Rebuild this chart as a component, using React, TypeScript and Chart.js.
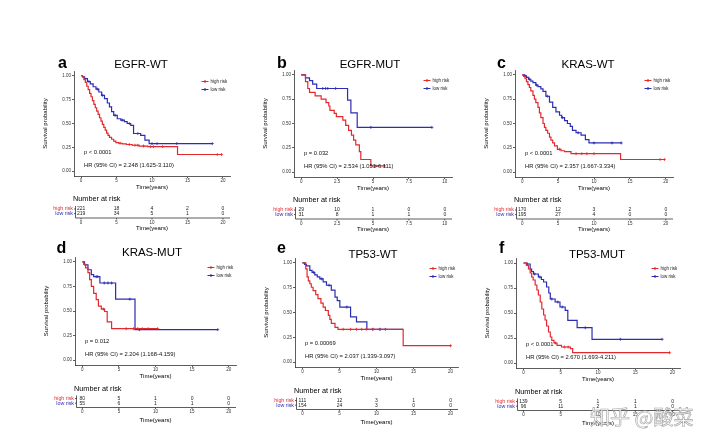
import React, { useEffect, useRef } from 'react';
import { Chart, registerables } from 'chart.js';

Chart.register(...registerables);

const FONT = '"Liberation Sans", Arial, Helvetica, sans-serif';
const RED = '#e3292e';
const BLUE = '#2d2db4';
const INK = '#222';

// ---------- tick labels ----------
const xTicks20 = [0, 5, 10, 15, 20];
const xTicks10 = [0, 2.5, 5, 7.5, 10];
const yTicks = [0, 0.25, 0.5, 0.75, 1];

// ---------- texts ----------
const letters = ['a', 'b', 'c', 'd', 'e', 'f'];
const titles = ['EGFR-WT', 'EGFR-MUT', 'KRAS-WT', 'KRAS-MUT', 'TP53-WT', 'TP53-MUT'];
const pTexts = ['p < 0.0001', 'p = 0.032', 'p < 0.0001', 'p = 0.012', 'p = 0.00069', 'p < 0.0001'];
const hrTexts = [
  'HR (95% CI) = 2.248 (1.625-3.110)',
  'HR (95% CI) = 2.534 (1.051-6.111)',
  'HR (95% CI) = 2.357 (1.667-3.334)',
  'HR (95% CI) = 2.204 (1.168-4.159)',
  'HR (95% CI) = 2.037 (1.339-3.097)',
  'HR (95% CI) = 2.670 (1.693-4.211)',
];
const groupNames = ['high risk', 'low risk'];

// ---------- Kaplan-Meier steps [time, survival] ----------
const aHigh = [[0, 1], [0.2, 0.985], [0.4, 0.96], [0.6, 0.93], [0.8, 0.89], [1.0, 0.855], [1.2, 0.815], [1.4, 0.78], [1.6, 0.74], [1.8, 0.7], [2.0, 0.665], [2.2, 0.63], [2.4, 0.595], [2.6, 0.56], [2.8, 0.525], [3.0, 0.49], [3.2, 0.46], [3.4, 0.43], [3.6, 0.4], [3.8, 0.375], [4.0, 0.355], [4.3, 0.335], [4.6, 0.315], [4.9, 0.3], [5.3, 0.293], [5.8, 0.287], [6.4, 0.28], [7.2, 0.272], [8.2, 0.264], [9.4, 0.258], [13.6, 0.175]];
const aHighEnd = 19.8;
const aHighCens = [5.5, 6.8, 7.6, 8.0, 8.8, 9.8, 10.2, 11.5, 19.2, 19.8];
const aLow = [[0, 1], [0.2, 0.99], [0.5, 0.97], [0.9, 0.94], [1.3, 0.915], [1.7, 0.885], [2.1, 0.86], [2.5, 0.83], [2.9, 0.795], [3.3, 0.76], [3.7, 0.715], [4.0, 0.675], [4.3, 0.625], [4.6, 0.585], [5.1, 0.55], [5.6, 0.535], [6.1, 0.52], [6.5, 0.5], [7.0, 0.48], [7.4, 0.395], [8.4, 0.375], [9.0, 0.325], [9.6, 0.29]];
const aLowEnd = 18.5;
const aLowCens = [1.1, 2.3, 3.0, 4.8, 5.8, 6.8, 8.0, 10.0, 10.7, 13.5, 18.5];

const bHigh = [[0, 1], [0.3, 0.93], [0.46, 0.86], [0.58, 0.82], [0.97, 0.785], [1.39, 0.75], [1.73, 0.715], [1.92, 0.68], [2.0, 0.635], [2.3, 0.605], [2.45, 0.57], [2.9, 0.535], [3.1, 0.48], [3.3, 0.43], [3.5, 0.38], [3.65, 0.33], [3.8, 0.28], [4.05, 0.21], [4.15, 0.13], [4.85, 0.065]];
const bHighEnd = 5.8;
const bHighCens = [5.2, 5.8];
const bLow = [[0, 1], [0.3, 0.97], [0.58, 0.94], [0.8, 0.905], [1.08, 0.86], [3.23, 0.74], [3.46, 0.61], [3.9, 0.46]];
const bLowEnd = 9.1;
const bLowCens = [1.5, 1.7, 1.85, 2.4, 4.85, 9.1];

const cHigh = [[0, 1], [0.2, 0.985], [0.4, 0.96], [0.6, 0.93], [0.8, 0.9], [1.0, 0.87], [1.2, 0.835], [1.5, 0.79], [1.7, 0.75], [1.9, 0.715], [2.2, 0.665], [2.4, 0.61], [2.6, 0.56], [2.9, 0.5], [3.1, 0.46], [3.3, 0.43], [3.55, 0.4], [3.8, 0.36], [4.0, 0.33], [4.25, 0.3], [4.5, 0.27], [4.9, 0.235], [5.4, 0.22], [5.9, 0.21], [6.8, 0.19], [13.7, 0.13]];
const cHighEnd = 19.8;
const cHighCens = [5.2, 7.5, 8.3, 9.0, 10.0, 19.2, 19.8];
const cLow = [[0, 1], [0.3, 0.99], [0.6, 0.975], [0.9, 0.955], [1.2, 0.935], [1.5, 0.92], [1.9, 0.895], [2.2, 0.88], [2.6, 0.855], [2.9, 0.83], [3.3, 0.78], [3.8, 0.72], [4.25, 0.665], [4.7, 0.62], [5.2, 0.585], [5.5, 0.56], [5.9, 0.53], [6.3, 0.5], [6.7, 0.47], [7.0, 0.43], [7.5, 0.405], [8.2, 0.38], [8.8, 0.335], [9.3, 0.3]];
const cLowEnd = 13.8;
const cLowCens = [0.4, 1.0, 2.0, 3.5, 5.6, 7.8, 10.0, 12.5, 13.8];

const dHigh = [[0, 1], [0.2, 0.975], [0.45, 0.94], [0.77, 0.89], [1.0, 0.82], [1.23, 0.75], [1.55, 0.68], [1.9, 0.615], [2.2, 0.55], [2.6, 0.52], [3.05, 0.495], [3.4, 0.39], [4.0, 0.32]];
const dHighEnd = 10.3;
const dHighCens = [2.9, 6.0, 7.0, 7.6, 8.2, 9.0, 10.3];
const dLow = [[0, 1], [0.3, 0.97], [0.77, 0.92], [1.23, 0.87], [1.55, 0.85], [2.4, 0.785], [4.55, 0.62], [7.2, 0.31]];
const dLowEnd = 18.5;
const dLowCens = [1.9, 2.1, 3.0, 3.5, 4.0, 6.5, 7.8, 18.5];

const eHigh = [[0, 1], [0.45, 0.94], [0.63, 0.86], [0.8, 0.82], [1.0, 0.79], [1.2, 0.755], [1.44, 0.72], [1.8, 0.68], [2.1, 0.64], [2.5, 0.595], [2.8, 0.555], [3.1, 0.52], [3.5, 0.47], [3.7, 0.43], [3.9, 0.39], [4.4, 0.35], [4.8, 0.33], [13.6, 0.165]];
const eHighEnd = 20;
const eHighCens = [5.5, 6.5, 7.3, 8.0, 8.6, 9.5, 10.4, 20];
const eLow = [[0, 1], [0.3, 0.985], [0.55, 0.97], [1.0, 0.925], [1.3, 0.905], [1.67, 0.88], [2.0, 0.86], [2.35, 0.84], [2.8, 0.81], [3.25, 0.775], [3.9, 0.725], [4.4, 0.655], [4.7, 0.62], [5.05, 0.555], [6.5, 0.455], [7.3, 0.405], [8.7, 0.33]];
const eLowEnd = 13.6;
const eLowCens = [1.5, 2.6, 3.6, 6.0, 9.5, 10.5, 11.2];

const fHigh = [[0, 1], [0.4, 0.975], [0.67, 0.94], [0.9, 0.9], [1.1, 0.86], [1.3, 0.83], [1.57, 0.78], [1.8, 0.73], [2.0, 0.68], [2.25, 0.61], [2.46, 0.54], [2.7, 0.48], [2.9, 0.43], [3.1, 0.37], [3.36, 0.31], [3.6, 0.26], [3.8, 0.227], [4.1, 0.2], [4.5, 0.177], [5.1, 0.16], [6.3, 0.143], [6.6, 0.103]];
const fHighEnd = 19.6;
const fHighCens = [4.3, 5.5, 6.0, 19.6];
const fLow = [[0, 1], [0.45, 0.99], [0.9, 0.94], [1.1, 0.915], [1.34, 0.89], [2.0, 0.86], [2.4, 0.835], [2.7, 0.81], [3.1, 0.76], [3.4, 0.7], [3.6, 0.64], [4.25, 0.61], [4.9, 0.56], [5.6, 0.527], [5.95, 0.427], [7.2, 0.353], [9.2, 0.237]];
const fLowEnd = 18.6;
const fLowCens = [0.5, 1.5, 2.2, 3.8, 4.6, 5.2, 8.3, 13.0, 18.6];

// ---------- numbers at risk ----------
const aRiskHigh = [221, 18, 4, 2, 0];
const aRiskLow = [219, 34, 5, 1, 0];
const bRiskHigh = [29, 10, 1, 0, 0];
const bRiskLow = [31, 8, 1, 1, 0];
const cRiskHigh = [170, 12, 3, 2, 0];
const cRiskLow = [195, 27, 4, 0, 0];
const dRiskHigh = [80, 5, 1, 0, 0];
const dRiskLow = [55, 6, 1, 1, 0];
const eRiskHigh = [111, 12, 3, 1, 0];
const eRiskLow = [154, 24, 3, 0, 0];
const fRiskHigh = [139, 5, 1, 1, 0];
const fRiskLow = [96, 11, 2, 1, 0];

const panels = [
  { high: aHigh, highEnd: aHighEnd, highCens: aHighCens, low: aLow, lowEnd: aLowEnd, lowCens: aLowCens, riskHigh: aRiskHigh, riskLow: aRiskLow, xTicks: xTicks20 },
  { high: bHigh, highEnd: bHighEnd, highCens: bHighCens, low: bLow, lowEnd: bLowEnd, lowCens: bLowCens, riskHigh: bRiskHigh, riskLow: bRiskLow, xTicks: xTicks10 },
  { high: cHigh, highEnd: cHighEnd, highCens: cHighCens, low: cLow, lowEnd: cLowEnd, lowCens: cLowCens, riskHigh: cRiskHigh, riskLow: cRiskLow, xTicks: xTicks20 },
  { high: dHigh, highEnd: dHighEnd, highCens: dHighCens, low: dLow, lowEnd: dLowEnd, lowCens: dLowCens, riskHigh: dRiskHigh, riskLow: dRiskLow, xTicks: xTicks20 },
  { high: eHigh, highEnd: eHighEnd, highCens: eHighCens, low: eLow, lowEnd: eLowEnd, lowCens: eLowCens, riskHigh: eRiskHigh, riskLow: eRiskLow, xTicks: xTicks20 },
  { high: fHigh, highEnd: fHighEnd, highCens: fHighCens, low: fLow, lowEnd: fLowEnd, lowCens: fLowCens, riskHigh: fRiskHigh, riskLow: fRiskLow, xTicks: xTicks20 },
];

// ---------- layout (page pixel positions of each plot area) ----------
const layouts = [
  { l: 74, t: 71, r: 230, b: 176, titleX: 141, titleBase: 68, letterX: 58, letterBase: 67.5, row: 0 },
  { l: 294, t: 70, r: 452, b: 177, titleX: 370, titleBase: 68, letterX: 277, letterBase: 67.5, row: 0 },
  { l: 515, t: 70, r: 673, b: 177, titleX: 588, titleBase: 68, letterX: 497, letterBase: 67.5, row: 0 },
  { l: 75, t: 257, r: 236, b: 365, titleX: 152, titleBase: 256, letterX: 56.5, letterBase: 252.5, row: 1 },
  { l: 295, t: 258, r: 458, b: 367, titleX: 373, titleBase: 257.5, letterX: 277, letterBase: 253, row: 1 },
  { l: 516, t: 258, r: 680, b: 368, titleX: 597, titleBase: 257.5, letterX: 499, letterBase: 253, row: 1 },
];
const tableOffsets = [
  { nar: 23, r1: 33, r2: 37.6, axis: 42, tick: 46.5, time: 52.5 },
  { nar: 24, r1: 33.5, r2: 38.2, axis: 42.5, tick: 47, time: 55.5 },
];
const PAD_LEFT = 40, PAD_TOP = 22, PAD_RIGHT = 4, X_AXIS_H = 15, PAD_BOTTOM = 46;

function survivalAt(steps: number[][], t: number) {
  let s = 1;
  for (const [st, sv] of steps) if (st <= t) s = sv;
  return s;
}

function buildCurve(steps: number[][], end: number, cens: number[]) {
  const pts: { x: number; y: number; c: boolean }[] = steps.map(([t, s]) => ({ x: t, y: s, c: false }));
  cens.forEach((t) => pts.push({ x: t, y: survivalAt(steps, t), c: true }));
  if (!cens.includes(end)) pts.push({ x: end, y: survivalAt(steps, end), c: false });
  pts.sort((p, q) => p.x - q.x || (p.c ? 1 : 0) - (q.c ? 1 : 0));
  return pts;
}

function dataset(steps: number[][], end: number, cens: number[], color: string, label: string) {
  return {
    label,
    data: buildCurve(steps, end, cens),
    borderColor: color,
    backgroundColor: color,
    borderWidth: 1.2,
    stepped: true as const,
    fill: false,
    tension: 0,
    pointStyle: 'cross' as const,
    pointRadius: (ctx: any) => (ctx.raw && ctx.raw.c ? 1.5 : 0),
    pointBorderColor: color,
    pointBorderWidth: 0.8,
    pointHoverRadius: 0,
  };
}

function makeDecor(idx: number) {
  return {
    id: 'decor' + idx,
    afterDraw(chart: any) {
      const L = layouts[idx];
      const p = panels[idx];
      const T = tableOffsets[L.row];
      const ctx: CanvasRenderingContext2D = chart.ctx;
      const ca = chart.chartArea;
      const xs = chart.scales.x;
      const cl = L.l - PAD_LEFT;
      const ct = L.t - PAD_TOP;
      ctx.save();

      // panel letter + title
      ctx.fillStyle = '#000';
      ctx.textBaseline = 'alphabetic';
      ctx.textAlign = 'left';
      ctx.font = `bold 16px ${FONT}`;
      ctx.fillText(letters[idx], L.letterX - cl, L.letterBase - ct);
      ctx.textAlign = 'center';
      ctx.font = `11.5px ${FONT}`;
      ctx.fillText(titles[idx], L.titleX - cl, L.titleBase - ct);

      // legend inside plot (top right)
      const colors = [RED, BLUE];
      ctx.textBaseline = 'middle';
      ctx.textAlign = 'left';
      ctx.font = `4.5px ${FONT}`;
      for (let k = 0; k < 2; k++) {
        const y = ca.top + 10.5 + 8 * k;
        const x0 = ca.right - 28.5;
        ctx.strokeStyle = colors[k];
        ctx.lineWidth = 1.1;
        ctx.beginPath();
        ctx.moveTo(x0, y);
        ctx.lineTo(x0 + 7, y);
        ctx.moveTo(x0 + 3.5, y - 1.5);
        ctx.lineTo(x0 + 3.5, y + 1.5);
        ctx.stroke();
        ctx.fillStyle = INK;
        ctx.fillText(groupNames[k], x0 + 9, y);
      }

      // p-value and hazard ratio
      ctx.fillStyle = '#111';
      ctx.font = `5.8px ${FONT}`;
      ctx.fillText(pTexts[idx], ca.left + 10, ca.bottom - 24);
      ctx.fillText(hrTexts[idx], ca.left + 10, ca.bottom - 10.5);

      // risk table
      const B = ca.bottom;
      ctx.fillStyle = '#000';
      ctx.font = `7.3px ${FONT}`;
      ctx.fillText('Number at risk', ca.left - 1, B + T.nar);

      const tl = ca.left + 1.5;
      const rows = [p.riskHigh, p.riskLow];
      const rowY = [B + T.r1, B + T.r2];
      ctx.strokeStyle = '#333';
      ctx.lineWidth = 0.8;
      ctx.beginPath();
      ctx.moveTo(tl, B + T.r1 - 3);
      ctx.lineTo(tl, B + T.axis);
      ctx.lineTo(ca.right, B + T.axis);
      for (let k = 0; k < 2; k++) {
        ctx.moveTo(tl - 1.5, rowY[k]);
        ctx.lineTo(tl, rowY[k]);
      }
      p.xTicks.forEach((v) => {
        const px = xs.getPixelForValue(v);
        ctx.moveTo(px, B + T.axis);
        ctx.lineTo(px, B + T.axis + 1.5);
      });
      ctx.stroke();

      for (let k = 0; k < 2; k++) {
        ctx.textAlign = 'right';
        ctx.fillStyle = colors[k];
        ctx.font = `5.3px ${FONT}`;
        ctx.fillText(groupNames[k], tl - 2.5, rowY[k]);
        ctx.textAlign = 'center';
        ctx.fillStyle = INK;
        ctx.font = `5px ${FONT}`;
        rows[k].forEach((n: number, j: number) => {
          ctx.fillText(String(n), xs.getPixelForValue(p.xTicks[j]), rowY[k]);
        });
      }
      ctx.fillStyle = '#333';
      ctx.font = `4.5px ${FONT}`;
      p.xTicks.forEach((v) => {
        ctx.fillText(String(v), xs.getPixelForValue(v), B + T.tick);
      });
      ctx.fillStyle = '#000';
      ctx.font = `6px ${FONT}`;
      ctx.fillText('Time(years)', (ca.left + ca.right) / 2, B + T.time);
      ctx.restore();
    },
  };
}

function Panel({ idx }: { idx: number }) {
  const ref = useRef<HTMLCanvasElement>(null);
  const L = layouts[idx];
  const cw = PAD_LEFT + (L.r - L.l) + PAD_RIGHT;
  const ch = PAD_TOP + (L.b - L.t) + X_AXIS_H + PAD_BOTTOM;

  useEffect(() => {
    const p = panels[idx];
    const xMax = p.xTicks[p.xTicks.length - 1];
    const pad = xMax * 0.05;
    const axisGrid = {
      display: true,
      drawOnChartArea: false,
      drawTicks: true,
      tickLength: 2,
      color: '#333',
      lineWidth: 0.8,
    };
    const chart = new Chart(ref.current as HTMLCanvasElement, {
      type: 'line',
      data: {
        datasets: [
          dataset(p.high, p.highEnd, p.highCens, RED, groupNames[0]),
          dataset(p.low, p.lowEnd, p.lowCens, BLUE, groupNames[1]),
        ] as any,
      },
      options: {
        animation: false,
        responsive: false,
        devicePixelRatio: window.devicePixelRatio || 1,
        events: [],
        layout: { padding: { left: 0, top: PAD_TOP, right: PAD_RIGHT, bottom: PAD_BOTTOM } },
        plugins: { legend: { display: false }, tooltip: { enabled: false }, title: { display: false } },
        scales: {
          x: {
            type: 'linear',
            min: -pad,
            max: xMax + pad,
            afterBuildTicks: (s: any) => {
              s.ticks = p.xTicks.map((v) => ({ value: v }));
            },
            afterFit: (s: any) => {
              s.height = X_AXIS_H;
            },
            ticks: {
              font: { size: 4.5, family: FONT },
              color: '#333',
              padding: 0,
              autoSkip: false,
              maxRotation: 0,
              callback: (v: any) => String(v),
            },
            grid: axisGrid,
            border: { display: true, color: '#333', width: 0.8 },
            title: {
              display: true,
              text: 'Time(years)',
              font: { size: 6, family: FONT },
              color: '#000',
              padding: { top: 0, bottom: 0 },
            },
          },
          y: {
            type: 'linear',
            min: -0.05,
            max: 1.05,
            afterBuildTicks: (s: any) => {
              s.ticks = yTicks.map((v) => ({ value: v }));
            },
            afterFit: (s: any) => {
              s.width = PAD_LEFT;
            },
            ticks: {
              font: { size: 4.5, family: FONT },
              color: '#333',
              padding: 1,
              autoSkip: false,
              callback: (v: any) => Number(v).toFixed(2),
            },
            grid: axisGrid,
            border: { display: true, color: '#333', width: 0.8 },
            title: {
              display: true,
              text: 'Survival probability',
              font: { size: 6, family: FONT },
              color: '#000',
              padding: { top: 8, bottom: 0 },
            },
          },
        },
      } as any,
      plugins: [makeDecor(idx)],
    });
    return () => chart.destroy();
  }, [idx]);

  return (
    <canvas
      ref={ref}
      width={cw}
      height={ch}
      style={{ position: 'absolute', left: L.l - PAD_LEFT, top: L.t - PAD_TOP, width: cw, height: ch }}
    />
  );
}

export default function App() {
  return (
    <div
      style={{
        position: 'absolute',
        left: 0,
        top: 0,
        width: 720,
        height: 447,
        background: '#fff',
        overflow: 'hidden',
      }}
    >
      {layouts.map((_, i) => (
        <Panel key={i} idx={i} />
      ))}
      <div
        style={{
          position: 'absolute',
          left: 590,
          top: 405,
          fontFamily: '"Noto Sans CJK SC", sans-serif',
          fontSize: 20,
          lineHeight: '24px',
          color: 'rgba(255,255,255,0.85)',
          WebkitTextStroke: '0.6px rgba(130,130,130,0.75)',
          whiteSpace: 'nowrap',
        }}
      >
        知乎 @酸菜
      </div>
    </div>
  );
}
